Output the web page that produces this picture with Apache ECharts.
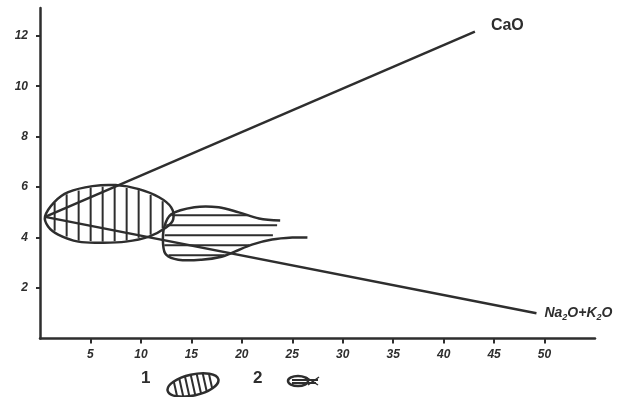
<!DOCTYPE html>
<html>
<head>
<meta charset="utf-8">
<script src="https://cdn.jsdelivr.net/npm/echarts@6/dist/echarts.min.js"></script>
<style>
  html, body { margin: 0; padding: 0; background: #fff; }
  #chart { width: 623px; height: 397px; }
</style>
</head>
<body>
<div id="chart"></div>
<script>
// значения (x - SiO2?, y - оксиды, масс.%)
const xTicks = [5, 10, 15, 20, 25, 30, 35, 40, 45, 50];
const yTicks = [2, 4, 6, 8, 10, 12];

// линии трендов
const caoLine = [[0.5, 4.82], [43.1, 12.16]];
const alkLine = [[0.5, 4.82], [49.2, 1.0]];

// поле 1 (вертикальная штриховка)
const field1 = [
  [0.5, 4.84], [1.4, 5.4], [2.8, 5.8], [5.2, 6.04], [7.5, 6.08], [9.8, 5.92],
  [11.8, 5.6], [13.0, 5.2], [13.2, 4.72], [12.5, 4.4], [10.8, 4.04],
  [8.5, 3.84], [6.2, 3.8], [3.8, 3.84], [1.8, 4.12], [0.8, 4.44]
];
// поле 2 (горизонтальная штриховка), контур открыт справа
const field2 = [
  [23.8, 4.68], [21.7, 4.76], [19.7, 5.0], [17.7, 5.2], [15.3, 5.2], [13.0, 4.92],
  [12.3, 4.4], [12.2, 3.72], [12.5, 3.32], [13.7, 3.12], [16.0, 3.12], [18.0, 3.24],
  [19.3, 3.44], [21.0, 3.72], [23.0, 3.92], [25.0, 4.0], [26.5, 4.0]
];

const ink = '#2e2e2e';

// отрезки штриховки внутри многоугольника (в пикселях)
function hatch(pts, step, vertical) {
  const k = vertical ? 0 : 1, o = vertical ? 1 : 0;
  let lo = Infinity, hi = -Infinity;
  pts.forEach(p => { lo = Math.min(lo, p[k]); hi = Math.max(hi, p[k]); });
  const segs = [];
  for (let c = lo + step * 0.8; c < hi; c += step) {
    const cross = [];
    for (let i = 0; i < pts.length; i++) {
      const a = pts[i], b = pts[(i + 1) % pts.length];
      if ((a[k] <= c && b[k] > c) || (b[k] <= c && a[k] > c)) {
        const t = (c - a[k]) / (b[k] - a[k]);
        cross.push(a[o] + t * (b[o] - a[o]));
      }
    }
    cross.sort((m, n) => m - n);
    for (let j = 0; j + 1 < cross.length; j += 2) {
      const s = vertical
        ? { x1: c, y1: cross[j] + 1, x2: c, y2: cross[j + 1] - 1 }
        : { x1: cross[j] + 1, y1: c, x2: cross[j + 1] - 1, y2: c };
      segs.push({ type: 'line', shape: s, style: { stroke: ink, lineWidth: 2 } });
    }
  }
  return segs;
}

const myChart = echarts.init(document.getElementById('chart'));

const labelFont = {
  fontFamily: 'Liberation Sans',
  fontWeight: 'bold',
  fontStyle: 'italic',
  fontSize: 12,
  color: ink
};

const option = {
  backgroundColor: '#fff',
  animation: false,
  grid: { left: 40, right: 28, top: 8, bottom: 58.5 },
  xAxis: {
    type: 'value',
    min: 0,
    max: 55,
    splitLine: { show: false },
    axisLine: { lineStyle: { color: ink, width: 2.5 } },
    axisTick: { customValues: xTicks, length: 5, lineStyle: { color: ink, width: 2 } },
    axisLabel: Object.assign({ customValues: xTicks, margin: 10 }, labelFont)
  },
  yAxis: {
    type: 'value',
    min: 0,
    max: 13.1,
    splitLine: { show: false },
    axisLine: { lineStyle: { color: ink, width: 2.5 } },
    axisTick: { customValues: yTicks, length: 4, lineStyle: { color: ink, width: 2 } },
    axisLabel: Object.assign({ customValues: yTicks, margin: 12 }, labelFont)
  },
  series: [
    {
      type: 'line',
      data: caoLine,
      symbol: 'none',
      lineStyle: { color: ink, width: 2.5 },
      endLabel: {
        show: true,
        formatter: 'CaO',
        offset: [8, -6],
        fontFamily: 'Liberation Sans',
        fontWeight: 'bold',
        fontSize: 16,
        color: ink
      }
    },
    {
      type: 'line',
      data: alkLine,
      symbol: 'none',
      lineStyle: { color: ink, width: 2.5 },
      endLabel: {
        show: true,
        formatter: 'Na{s|2}O+K{s|2}O',
        offset: [0, 0],
        fontFamily: 'Liberation Sans',
        fontWeight: 'bold',
        fontStyle: 'italic',
        fontSize: 14,
        color: ink,
        rich: {
          s: { fontSize: 9, fontWeight: 'bold', color: ink, padding: [9, 0, 0, 0] }
        }
      }
    },
    {
      type: 'custom',
      clip: false,
      data: [[0, 0]],
      renderItem: (params, api) => {
        const p1 = field1.map(p => api.coord(p));
        const p2 = field2.map(p => api.coord(p));
        // штриховка поля 2 замыкается от кончика верхнего "хвоста" вниз
        const p2h = p2.slice(0, 15);
        return {
          type: 'group',
          children: [
            { type: 'polygon', shape: { points: p1, smooth: 0.35 },
              style: { fill: null, stroke: ink, lineWidth: 2.5 } },
            { type: 'polyline', shape: { points: p2, smooth: 0.35 },
              style: { fill: null, stroke: ink, lineWidth: 2.5 } }
          ].concat(hatch(p1, 12, true), hatch(p2h, 10, false))
        };
      }
    }
  ],
  graphic: [
    { type: 'text', left: 141, top: 370,
      style: { text: '1', font: 'bold 17px Liberation Sans', fill: ink } },
    {
      type: 'group', x: 193, y: 385, rotation: 0.22,
      children: [
        { type: 'ellipse', shape: { cx: 0, cy: 0, rx: 26, ry: 10.5 },
          style: { fill: null, stroke: ink, lineWidth: 2.5 } }
      ].concat([-18, -12, -6, 0, 6, 12, 18].map(dx => {
        const h = 10.5 * Math.sqrt(1 - (dx * dx) / (26 * 26));
        return { type: 'line', shape: { x1: dx, y1: -h, x2: dx, y2: h },
                 style: { stroke: ink, lineWidth: 2 } };
      }))
    },
    { type: 'text', left: 253, top: 370,
      style: { text: '2', font: 'bold 17px Liberation Sans', fill: ink } },
    {
      type: 'group', x: 298, y: 381,
      children: [
        { type: 'ellipse', shape: { cx: 0, cy: 0, rx: 10, ry: 5 },
          style: { fill: null, stroke: ink, lineWidth: 2.5 } },
        { type: 'line', shape: { x1: -6, y1: -1, x2: 20, y2: -1 }, style: { stroke: ink, lineWidth: 2 } },
        { type: 'line', shape: { x1: -6, y1: 2, x2: 18, y2: 2 }, style: { stroke: ink, lineWidth: 2 } },
        { type: 'line', shape: { x1: 8, y1: -4, x2: 20, y2: 4 }, style: { stroke: ink, lineWidth: 1.5 } },
        { type: 'line', shape: { x1: 10, y1: 4, x2: 21, y2: -4 }, style: { stroke: ink, lineWidth: 1.5 } }
      ]
    }
  ]
};

myChart.setOption(option);
</script>
</body>
</html>
